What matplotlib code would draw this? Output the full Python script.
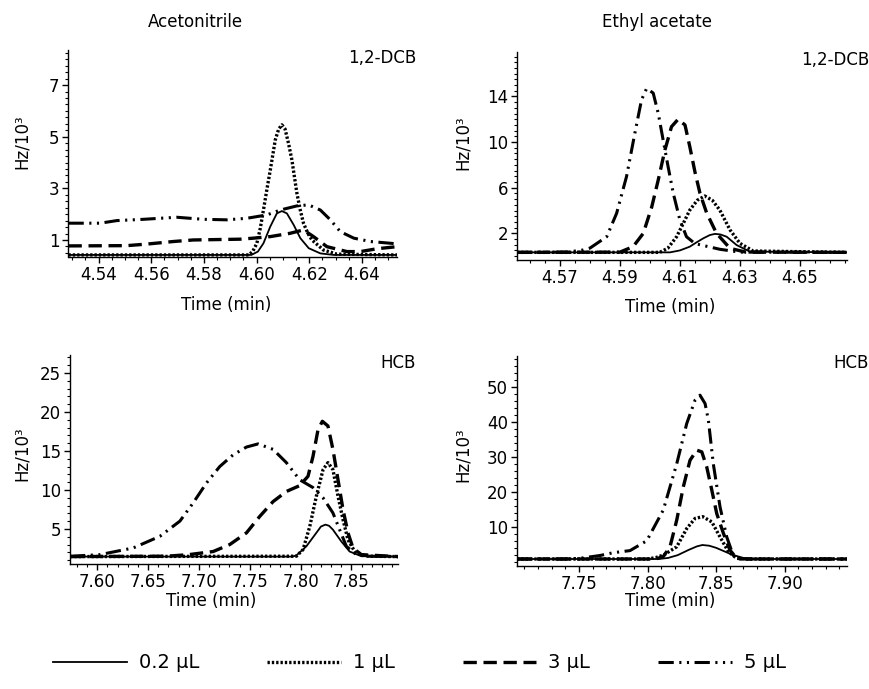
import matplotlib
matplotlib.use('Agg')
import matplotlib.pyplot as plt
from matplotlib.ticker import MultipleLocator
from matplotlib.lines import Line2D

plt.rcParams['font.family'] = ['DejaVu Sans']

# ============= acetonitrile, 1,2-DCB ========================
acn_dcb_t_02 = [4.5286, 4.598, 4.6005, 4.6026, 4.6052, 4.6077, 4.6096, 4.6115, 4.6141, 4.6166, 4.6198, 4.6242, 4.6293, 4.6533]
acn_dcb_v_02 = [0.42, 0.42, 0.55, 0.87, 1.52, 2.03, 2.12, 2.03, 1.58, 1.07, 0.68, 0.48, 0.42, 0.42]
acn_dcb_t_1 = [4.5286, 4.597, 4.5985, 4.6001, 4.6014, 4.6026, 4.6039, 4.6052, 4.6071, 4.6084, 4.6096, 4.6108,
               4.6121, 4.6134, 4.6153, 4.6166, 4.6178, 4.6195, 4.621, 4.6254, 4.6305, 4.6533]
acn_dcb_v_1 = [0.42, 0.42, 0.55, 0.87, 1.45, 2.16, 2.95, 3.71, 4.88, 5.30, 5.46, 5.30,
               4.75, 4.1, 2.81, 2.15, 1.65, 1.25, 1.0, 0.61, 0.45, 0.42]
acn_dcb_t_3 = [4.5286, 4.5507, 4.5583, 4.5684, 4.576, 4.5937, 4.5988, 4.6052, 4.6128, 4.6178, 4.6216, 4.6267,
               4.6343, 4.6394, 4.6457, 4.6533]
acn_dcb_v_3 = [0.77, 0.78, 0.84, 0.94, 1.0, 1.03, 1.07, 1.13, 1.26, 1.39, 1.13, 0.74, 0.55, 0.55, 0.66, 0.74]
acn_dcb_t_5 = [4.5286, 4.5406, 4.5469, 4.557, 4.5697, 4.5798, 4.5887, 4.5963, 4.6039, 4.609, 4.6153, 4.6197,
               4.6242, 4.628, 4.6318, 4.6369, 4.6432, 4.6533]
acn_dcb_v_5 = [1.65, 1.65, 1.75, 1.80, 1.88, 1.80, 1.78, 1.84, 1.97, 2.16, 2.32, 2.36,
               2.16, 1.78, 1.32, 1.07, 0.94, 0.85]

# ============= ethyl acetate, 1,2-DCB ========================
ea_dcb_t_02 = [4.5557, 4.6067, 4.610, 4.6133, 4.6155, 4.6178, 4.620, 4.6217, 4.6235, 4.6256, 4.6289, 4.6333, 4.6657]
ea_dcb_v_02 = [0.33, 0.33, 0.5, 0.83, 1.2, 1.56, 1.85, 1.95, 1.9, 1.7, 0.97, 0.4, 0.33]
ea_dcb_t_1 = [4.5557, 4.6033, 4.606, 4.6089, 4.611, 4.6133, 4.6158, 4.6183, 4.6208, 4.6233, 4.6267, 4.63, 4.6344, 4.6657]
ea_dcb_v_1 = [0.33, 0.33, 0.7, 1.7, 2.8, 4.04, 4.9, 5.27, 4.9, 4.04, 2.3, 1.12, 0.45, 0.33]
ea_dcb_t_3 = [4.5557, 4.590, 4.5944, 4.5978, 4.6006, 4.6028, 4.605, 4.6072, 4.6094, 4.6117, 4.6133, 4.615,
              4.6167, 4.6189, 4.6222, 4.6267, 4.632, 4.6657]
ea_dcb_v_3 = [0.33, 0.35, 0.83, 2.0, 4.3, 6.7, 9.3, 11.35, 12.0, 11.5, 9.6, 7.4, 5.5, 3.8, 2.0, 0.68, 0.35, 0.33]
ea_dcb_t_5 = [4.5557, 4.5723, 4.5778, 4.58, 4.5856, 4.5889, 4.5922, 4.595, 4.5972, 4.5989, 4.6011, 4.6028,
              4.6044, 4.6061, 4.6078, 4.61, 4.6122, 4.615, 4.6233, 4.63, 4.6657]
ea_dcb_v_5 = [0.33, 0.35, 0.54, 0.7, 1.7, 3.75, 6.97, 10.8, 13.7, 14.7, 14.3, 12.5,
              10.2, 7.8, 5.5, 3.17, 1.7, 1.1, 0.6, 0.35, 0.33]

# ============= acetonitrile, HCB ========================
acn_hcb_t_02 = [7.5732, 7.792, 7.7959, 7.8057, 7.8155, 7.82, 7.8244, 7.828, 7.8318, 7.84, 7.8482, 7.8597, 7.8958]
acn_hcb_v_02 = [1.45, 1.45, 1.6, 2.77, 4.5, 5.3, 5.55, 5.4, 4.9, 3.4, 2.1, 1.5, 1.45]
acn_hcb_t_1 = [7.5732, 7.7959, 7.8024, 7.809, 7.8155, 7.8221, 7.8269, 7.8318, 7.8368, 7.8417, 7.8466, 7.8532, 7.8646, 7.8958]
acn_hcb_v_1 = [1.45, 1.5, 2.35, 5.3, 9.2, 12.6, 13.5, 12.6, 9.2, 6.2, 3.6, 2.1, 1.5, 1.45]
acn_hcb_t_3 = [7.5732, 7.6682, 7.69, 7.714, 7.7304, 7.7468, 7.7598, 7.7729, 7.786, 7.7991, 7.8073, 7.8122,
               7.8171, 7.8214, 7.8269, 7.8318, 7.8368, 7.8417, 7.8466, 7.8515, 7.8597, 7.8958]
acn_hcb_v_3 = [1.45, 1.5, 1.7, 2.1, 3.0, 4.5, 6.6, 8.5, 9.8, 10.55, 11.75, 14.3,
               17.7, 18.8, 18.2, 15.2, 11.3, 7.5, 4.5, 2.56, 1.7, 1.45]
acn_hcb_t_5 = [7.5732, 7.6027, 7.6354, 7.6616, 7.6813, 7.6943, 7.7075, 7.7205, 7.7336, 7.7468, 7.7582, 7.7729,
               7.786, 7.7991, 7.8122, 7.822, 7.8318, 7.8384, 7.845, 7.8548, 7.865, 7.8958]
acn_hcb_v_5 = [1.49, 1.7, 2.56, 4.05, 6.0, 8.33, 10.9, 13.0, 14.5, 15.5, 15.9, 15.2,
               13.5, 11.3, 10.3, 9.0, 7.05, 4.9, 2.77, 1.7, 1.5, 1.45]

# ============= ethyl acetate, HCB ========================
ea_hcb_t_02 = [7.7047, 7.808, 7.815, 7.822, 7.83, 7.836, 7.840, 7.845, 7.85, 7.856, 7.862, 7.87, 7.878, 7.9456]
ea_hcb_v_02 = [0.8, 0.8, 1.1, 1.9, 3.4, 4.4, 4.8, 4.6, 4.0, 3.0, 2.0, 1.1, 0.8, 0.8]
ea_hcb_t_1 = [7.7047, 7.80, 7.806, 7.812, 7.8213, 7.8286, 7.8347, 7.8403, 7.8469, 7.8529, 7.859, 7.8651, 7.872, 7.9456]
ea_hcb_v_1 = [0.8, 0.8, 1.2, 2.0, 4.3, 9.5, 12.4, 12.9, 11.4, 7.1, 2.9, 1.0, 0.8, 0.8]
ea_hcb_t_3 = [7.7047, 7.806, 7.8115, 7.8164, 7.8213, 7.8261, 7.831, 7.8359, 7.8396, 7.8432, 7.8469, 7.8505,
              7.8554, 7.8602, 7.8651, 7.872, 7.9456]
ea_hcb_v_3 = [0.8, 0.8, 1.5, 4.3, 11.9, 21.4, 29.0, 31.9, 31.4, 27.1, 20.5, 13.8, 8.1, 3.3, 1.0, 0.8, 0.8]
ea_hcb_t_5 = [7.7047, 7.74, 7.7507, 7.7653, 7.775, 7.7872, 7.7994, 7.8115, 7.8213, 7.8286, 7.8347, 7.8383,
              7.842, 7.8444, 7.848, 7.8529, 7.8578, 7.8626, 7.8675, 7.9456]
ea_hcb_v_5 = [0.8, 0.8, 1.0, 1.8, 2.6, 3.2, 6.0, 14.8, 28.0, 39.5, 46.2, 47.6,
              45.2, 40.5, 28.0, 15.7, 7.1, 1.8, 0.8, 0.8]

volumes = ['0.2 µL', '1 µL', '3 µL', '5 µL']
styles = {'0.2 µL': dict(lw=1.3, ls='-'),
          '1 µL': dict(lw=2.4, ls=(0, (0.7, 0.6))),
          '3 µL': dict(lw=2.4, ls=(0, (4, 2))),
          '5 µL': dict(lw=2.2, ls=(0, (5, 1.8, 0.7, 1.8, 0.7, 1.8)))}

W, H = 870, 689
fig = plt.figure(figsize=(W / 100, H / 100), dpi=100)


def px_axes(l, t, r, b):
    return fig.add_axes([l / W, 1 - b / H, (r - l) / W, (b - t) / H])


panels = [
    (px_axes(68.5, 50, 397, 257), [(acn_dcb_t_02, acn_dcb_v_02), (acn_dcb_t_1, acn_dcb_v_1),
                                    (acn_dcb_t_3, acn_dcb_v_3), (acn_dcb_t_5, acn_dcb_v_5)],
     (4.5286, 4.6533), (0.34, 8.36), [4.54, 4.56, 4.58, 4.60, 4.62, 4.64], 0.005, [1, 3, 5, 7], 0.25),
    (px_axes(517, 52, 847, 260), [(ea_dcb_t_02, ea_dcb_v_02), (ea_dcb_t_1, ea_dcb_v_1),
                                   (ea_dcb_t_3, ea_dcb_v_3), (ea_dcb_t_5, ea_dcb_v_5)],
     (4.5557, 4.6657), (-0.34, 17.9), [4.57, 4.59, 4.61, 4.63, 4.65], 0.005, [2, 6, 10, 14], 0.5),
    (px_axes(70, 355, 398, 564), [(acn_hcb_t_02, acn_hcb_v_02), (acn_hcb_t_1, acn_hcb_v_1),
                                   (acn_hcb_t_3, acn_hcb_v_3), (acn_hcb_t_5, acn_hcb_v_5)],
     (7.5732, 7.8958), (0.5, 27.3), [7.60, 7.65, 7.70, 7.75, 7.80, 7.85], 0.01, [5, 10, 15, 20, 25], 1),
    (px_axes(517, 356, 847, 566), [(ea_hcb_t_02, ea_hcb_v_02), (ea_hcb_t_1, ea_hcb_v_1),
                                    (ea_hcb_t_3, ea_hcb_v_3), (ea_hcb_t_5, ea_hcb_v_5)],
     (7.7047, 7.9456), (-1.2, 58.8), [7.75, 7.80, 7.85, 7.90], 0.01, [10, 20, 30, 40, 50], 2),
]

for ax, curves, xl, yl, xt, xminor, yt, yminor in panels:
    for (t, v), vol in zip(curves, volumes):
        ax.plot(t, v, color='black', solid_capstyle='butt', dash_capstyle='butt', **styles[vol])
    ax.set_xlim(xl)
    ax.set_ylim(yl)
    ax.set_xticks(xt)
    ax.set_xticklabels(['%.2f' % x for x in xt])
    ax.set_yticks(yt)
    ax.xaxis.set_minor_locator(MultipleLocator(xminor))
    ax.yaxis.set_minor_locator(MultipleLocator(yminor))
    for s in ['top', 'right']:
        ax.spines[s].set_visible(False)
    for s in ['left', 'bottom']:
        ax.spines[s].set_linewidth(1.0)
    ax.tick_params(which='major', direction='out', length=4, width=1.0, labelsize=12, pad=2.5)
    ax.tick_params(which='minor', direction='out', length=2, width=0.8)

# labels
fig.text(195 / W, 1 - 22 / H, 'Acetonitrile', ha='center', va='center', fontsize=12)
fig.text(657 / W, 1 - 22 / H, 'Ethyl acetate', ha='center', va='center', fontsize=12)
for x, y in [(22, 142), (22, 454), (463, 143), (463, 455)]:
    fig.text(x / W, 1 - y / H, 'Hz/10³', rotation=90, ha='center', va='center', fontsize=12)
for x, y in [(226, 305), (670, 307), (211, 601), (670, 601)]:
    fig.text(x / W, 1 - y / H, 'Time (min)', ha='center', va='center', fontsize=12)
for x, y, s in [(416, 58, '1,2-DCB'), (869, 60, '1,2-DCB'), (416, 363, 'HCB'), (869, 363, 'HCB')]:
    fig.text(x / W, 1 - y / H, s, ha='right', va='center', fontsize=12)

handles = [Line2D([], [], color='black', **styles[vol]) for vol in volumes]
fig.legend(handles, volumes, loc='center', bbox_to_anchor=(0.482, 1 - 663 / H), ncol=4, frameon=False,
           fontsize=14, handlelength=3.8, handletextpad=0.6, columnspacing=3.5)

plt.savefig('out.png', dpi=100)
